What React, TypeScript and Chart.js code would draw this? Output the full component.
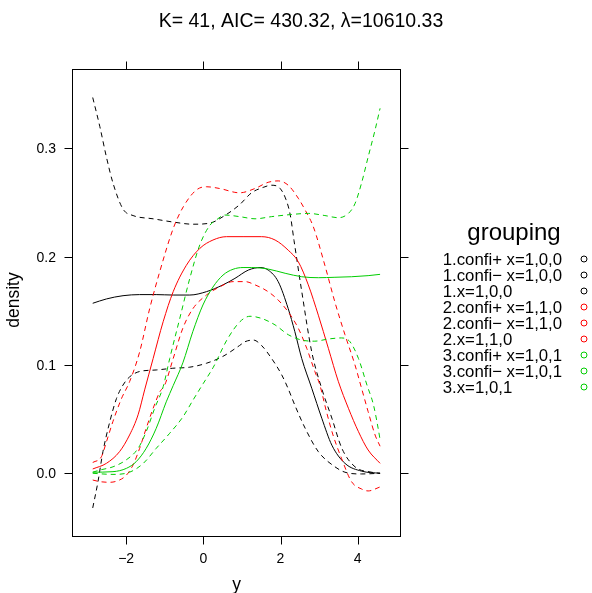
import React, { useEffect, useRef } from "react";
import { Chart, registerables } from "chart.js";
Chart.register(...registerables);

const TITLE = "K= 41, AIC= 430.32, λ=10610.33";
const X_LABEL = "y";
const Y_LABEL = "density";
const LEGEND_TITLE = "grouping";
const X_TICKS = [-2, 0, 2, 4];
const Y_TICKS = [0, 0.1, 0.2, 0.3];

const SERIES_NAMES = [
  "1.confi+ x=1,0,0",
  "1.confi\u2212 x=1,0,0",
  "1.x=1,0,0",
  "2.confi+ x=1,1,0",
  "2.confi\u2212 x=1,1,0",
  "2.x=1,1,0",
  "3.confi+ x=1,0,1",
  "3.confi\u2212 x=1,0,1",
  "3.x=1,0,1",
];
const SERIES_COLORS = ["#000000", "#000000", "#000000", "#FF0000", "#FF0000", "#FF0000", "#00CD00", "#00CD00", "#00CD00"];
const SERIES_DASHED = [true, true, false, true, true, false, true, true, false];

// 1.confi+ x=1,0,0
const x1Plus = [-2.865, -2.68, -2.51, -2.34, -2.08, -1.82, -1.3, -0.78, -0.27, 0.17, 0.51, 0.94, 1.25, 1.55, 1.77, 1.99, 2.14, 2.25, 2.35, 2.55, 2.81, 3.07, 3.33, 3.59, 3.93, 4.36, 4.58];
const y1Plus = [0.347, 0.32, 0.292, 0.268, 0.244, 0.238, 0.235, 0.232, 0.23, 0.231, 0.237, 0.248, 0.259, 0.264, 0.266, 0.263, 0.253, 0.239, 0.215, 0.168, 0.112, 0.078, 0.051, 0.023, 0.006, 0.001, 0.0];
// 1.confi- x=1,0,0
const x1Minus = [-2.865, -2.73, -2.6, -2.42, -2.25, -2.08, -1.91, -1.65, -1.22, -0.79, -0.35, 0.08, 0.51, 0.94, 1.08, 1.3, 1.51, 1.77, 2.03, 2.2, 2.37, 2.64, 2.98, 3.41, 3.67, 4.1, 4.58];
const y1Minus = [-0.032, -0.008, 0.02, 0.048, 0.069, 0.0815, 0.089, 0.094, 0.0954, 0.097, 0.098, 0.1016, 0.108, 0.118, 0.1215, 0.123, 0.118, 0.106, 0.091, 0.078, 0.063, 0.0415, 0.02, 0.006, 0.001, -0.0006, 0.0];
// 1.x=1,0,0
const x1Fit = [-2.865, -2.51, -2.08, -1.65, -1.22, -0.78, -0.35, 0.08, 0.51, 0.82, 1.17, 1.47, 1.68, 1.94, 2.2, 2.37, 2.55, 2.81, 3.07, 3.33, 3.67, 4.1, 4.58];
const y1Fit = [0.157, 0.161, 0.164, 0.165, 0.165, 0.1646, 0.1646, 0.1677, 0.174, 0.18, 0.1877, 0.19, 0.1877, 0.177, 0.152, 0.131, 0.106, 0.0785, 0.0508, 0.026, 0.0092, 0.002, 0.0];
// 2.confi+ x=1,1,0
const x2Plus = [-2.865, -2.64, -2.51, -2.34, -2.12, -1.91, -1.65, -1.39, -1.13, -0.78, -0.52, -0.18, 0.08, 0.42, 0.94, 1.34, 1.68, 1.94, 2.2, 2.46, 2.64, 2.85, 3.15, 3.41, 3.67, 3.93, 4.1, 4.27, 4.45, 4.58];
const y2Plus = [0.01, 0.0153, 0.029, 0.048, 0.069, 0.0846, 0.112, 0.152, 0.186, 0.226, 0.246, 0.2616, 0.2646, 0.263, 0.259, 0.263, 0.2687, 0.27, 0.266, 0.254, 0.243, 0.2277, 0.192, 0.158, 0.128, 0.1, 0.0785, 0.057, 0.0354, 0.025];
// 2.confi- x=1,1,0
const x2Minus = [-2.865, -2.68, -2.42, -2.17, -1.99, -1.82, -1.65, -1.48, -1.3, -1.13, -1.0, -0.78, -0.53, -0.27, 0.08, 0.42, 0.77, 1.08, 1.34, 1.68, 1.94, 2.2, 2.46, 2.68, 2.89, 3.02, 3.19, 3.36, 3.58, 3.84, 4.1, 4.27, 4.58];
const y2Minus = [-0.0062, -0.0077, -0.0083, -0.0062, -0.0016, 0.0077, 0.023, 0.0415, 0.06, 0.075, 0.0815, 0.106, 0.134, 0.152, 0.1646, 0.172, 0.177, 0.177, 0.174, 0.1677, 0.16, 0.149, 0.134, 0.1154, 0.094, 0.0815, 0.057, 0.0354, 0.0139, -0.0077, -0.0145, -0.0163, -0.0126];
// 2.x=1,1,0
const x2Fit = [-2.865, -2.51, -2.17, -1.91, -1.69, -1.52, -1.3, -1.04, -0.78, -0.44, -0.09, 0.25, 0.6, 1.03, 1.51, 1.86, 2.2, 2.46, 2.72, 2.98, 3.24, 3.5, 3.76, 4.02, 4.27, 4.58];
const y2Fit = [0.004, 0.0092, 0.02, 0.0354, 0.054, 0.077, 0.106, 0.14, 0.1677, 0.192, 0.2077, 0.2154, 0.2185, 0.2185, 0.2185, 0.2154, 0.206, 0.1954, 0.174, 0.146, 0.1154, 0.0846, 0.06, 0.0384, 0.0215, 0.0092];
// 3.confi+ x=1,0,1
const x3Plus = [-2.865, -2.68, -2.34, -2.0, -1.69, -1.48, -1.26, -1.04, -0.87, -0.61, -0.35, -0.09, 0.17, 0.34, 0.55, 0.94, 1.34, 1.77, 2.29, 2.72, 3.15, 3.5, 3.76, 3.93, 4.1, 4.27, 4.45, 4.58];
const y3Plus = [0.001, 0.003, 0.006, 0.0123, 0.023, 0.0384, 0.06, 0.08, 0.106, 0.143, 0.18, 0.211, 0.229, 0.234, 0.2385, 0.237, 0.235, 0.237, 0.239, 0.24, 0.238, 0.236, 0.24, 0.249, 0.268, 0.292, 0.317, 0.337];
// 3.confi- x=1,0,1
const x3Minus = [-2.865, -2.34, -1.91, -1.56, -1.22, -0.87, -0.53, -0.26, 0.0, 0.26, 0.61, 0.95, 1.21, 1.51, 1.86, 2.2, 2.55, 2.89, 3.24, 3.58, 3.8, 4.02, 4.24, 4.41, 4.53, 4.58];
const y3Minus = [0.0, -0.001, 0.001, 0.009, 0.023, 0.037, 0.052, 0.068, 0.083, 0.098, 0.123, 0.14, 0.145, 0.143, 0.137, 0.128, 0.123, 0.122, 0.124, 0.125, 0.1215, 0.106, 0.0815, 0.063, 0.0415, 0.031];
// 3.x=1,0,1
const x3Fit = [-2.865, -2.34, -1.99, -1.74, -1.48, -1.22, -0.96, -0.78, -0.53, -0.27, -0.01, 0.25, 0.51, 0.77, 1.03, 1.25, 1.68, 2.12, 2.55, 2.98, 3.41, 3.84, 4.27, 4.58];
const y3Fit = [0.001, 0.0015, 0.0046, 0.0107, 0.023, 0.0415, 0.066, 0.081, 0.102, 0.131, 0.1554, 0.172, 0.183, 0.1884, 0.19, 0.19, 0.1886, 0.1847, 0.1815, 0.1806, 0.181, 0.1815, 0.1825, 0.1837];

const SERIES_X = [x1Plus, x1Minus, x1Fit, x2Plus, x2Minus, x2Fit, x3Plus, x3Minus, x3Fit];
const SERIES_Y = [y1Plus, y1Minus, y1Fit, y2Plus, y2Minus, y2Fit, y3Plus, y3Minus, y3Fit];

const FONT = '"Liberation Sans", Arial, Helvetica, sans-serif';

const fmtX = (v: number) => (v < 0 ? "\u2212" + Math.abs(v) : String(v));
const fmtY = (v: number) => v.toFixed(1);

const latticePlugin = {
  id: "latticeDeco",
  afterDraw(chart: any) {
    const { ctx, chartArea: a, scales } = chart;
    const xs = scales.x;
    const ys = scales.y;
    ctx.save();
    ctx.strokeStyle = "#000";
    ctx.fillStyle = "#000";
    ctx.lineWidth = 1;
    ctx.setLineDash([]);
    // frame
    ctx.strokeRect(a.left - 0.5, a.top - 0.5, a.right - a.left + 1, a.bottom - a.top + 1);
    const T = 8;
    // x ticks
    ctx.font = `14px ${FONT}`;
    ctx.textAlign = "center";
    ctx.textBaseline = "alphabetic";
    X_TICKS.forEach((v) => {
      const px = Math.round(xs.getPixelForValue(v)) + 0.5;
      ctx.beginPath();
      ctx.moveTo(px, a.bottom + 0.5);
      ctx.lineTo(px, a.bottom + 0.5 + T);
      ctx.moveTo(px, a.top - 0.5);
      ctx.lineTo(px, a.top - 0.5 - T);
      ctx.stroke();
      ctx.fillText(fmtX(v), xs.getPixelForValue(v), a.bottom + 27);
    });
    // y ticks
    ctx.textAlign = "right";
    Y_TICKS.forEach((v) => {
      const py = Math.round(ys.getPixelForValue(v)) + 0.5;
      ctx.beginPath();
      ctx.moveTo(a.left - 0.5, py);
      ctx.lineTo(a.left - 0.5 - T, py);
      ctx.moveTo(a.right + 0.5, py);
      ctx.lineTo(a.right + 0.5 + T, py);
      ctx.stroke();
      ctx.fillText(fmtY(v), a.left - 17, ys.getPixelForValue(v) + 5);
    });
    // title
    ctx.font = `19.5px ${FONT}`;
    ctx.textAlign = "center";
    ctx.fillText(TITLE, 301, 26.5);
    // axis labels
    ctx.font = `17.5px ${FONT}`;
    const cx = (a.left + a.right) / 2;
    ctx.fillText(X_LABEL, cx, 590);
    ctx.save();
    ctx.translate(19, 300);
    ctx.rotate(-Math.PI / 2);
    ctx.fillText(Y_LABEL, 0, 0);
    ctx.restore();
    // legend
    ctx.font = `24px ${FONT}`;
    ctx.textAlign = "center";
    ctx.fillText(LEGEND_TITLE, 514, 239.5);
    ctx.font = `16.8px ${FONT}`;
    ctx.textAlign = "left";
    SERIES_NAMES.forEach((name, i) => {
      const base = 265 + 16 * i;
      ctx.fillStyle = "#000";
      ctx.fillText(name, 442.7, base);
      ctx.strokeStyle = SERIES_COLORS[i];
      ctx.beginPath();
      ctx.arc(584, base - 6, 3, 0, Math.PI * 2);
      ctx.stroke();
    });
    ctx.restore();
  },
};

export default function App() {
  const ref = useRef<HTMLCanvasElement | null>(null);
  useEffect(() => {
    if (!ref.current) return;
    const datasets = SERIES_NAMES.map((name, i) => ({
      label: name,
      data: SERIES_X[i].map((x, j) => ({ x, y: SERIES_Y[i][j] })),
      borderColor: SERIES_COLORS[i],
      backgroundColor: SERIES_COLORS[i],
      borderWidth: 1,
      borderDash: SERIES_DASHED[i] ? [5, 4] : [],
      pointRadius: 0,
      fill: false,
      cubicInterpolationMode: "monotone" as const,
      order: SERIES_NAMES.length - i,
    }));
    const chart = new Chart(ref.current, {
      type: "line",
      data: { datasets },
      options: {
        responsive: false,
        animation: false,
        devicePixelRatio: 1,
        layout: { padding: { left: 73, top: 70, right: 192, bottom: 57 } },
        plugins: { legend: { display: false }, tooltip: { enabled: false }, title: { display: false } },
        scales: {
          x: { type: "linear", display: false, min: -3.376, max: 5.096 },
          y: { type: "linear", display: false, min: -0.0579, max: 0.3724 },
        },
      },
      plugins: [latticePlugin],
    });
    return () => chart.destroy();
  }, []);
  return (
    <div style={{ position: "absolute", left: 0, top: 0, width: 592, height: 593, background: "#fff" }}>
      <canvas ref={ref} width={592} height={593} style={{ display: "block" }} />
    </div>
  );
}
